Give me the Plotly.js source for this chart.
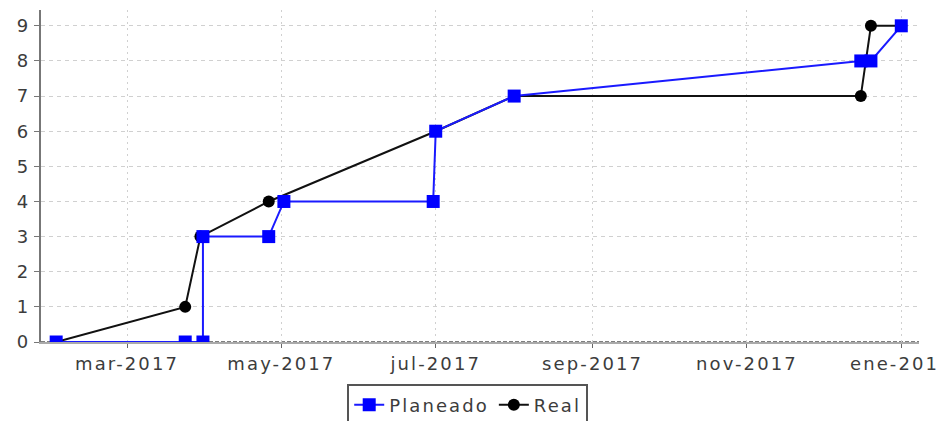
<!DOCTYPE html>
<html>
<head>
<meta charset="utf-8">
<script src="https://cdn.plot.ly/plotly-3.0.1.min.js"></script>
<style>
  html, body { margin: 0; padding: 0; background: #fff; }
  #chart { width: 936px; height: 421px; }
  .xtick text, .ytick text, .legendtext { letter-spacing: 2.1px; }
</style>
</head>
<body>
<div id="chart"></div>
<script>
// Planeado (planned) series
const planeadoDates = ["2017-02-01", "2017-03-24", "2017-03-31", "2017-03-31", "2017-04-26", "2017-05-02", "2017-06-30", "2017-07-01", "2017-08-01", "2017-12-16", "2017-12-20", "2018-01-01"];
const planeadoValues = [0, 0, 0, 3, 3, 4, 4, 6, 7, 8, 8, 9];

// Real (actual) series
const realDates = ["2017-02-01", "2017-03-24", "2017-03-30", "2017-04-26", "2017-07-01", "2017-08-01", "2017-12-16", "2017-12-20", "2018-01-01"];
const realValues = [0, 1, 3, 4, 6, 7, 7, 9, 9];

// Axis ticks
const xTickDates = ["2017-03-01", "2017-05-01", "2017-07-01", "2017-09-01", "2017-11-01", "2018-01-01"];
const xTickLabels = ["mar-2017", "may-2017", "jul-2017", "sep-2017", "nov-2017", "ene-2018"];
const yTickValues = [0, 1, 2, 3, 4, 5, 6, 7, 8, 9];

const tickFont = { family: "DejaVu Sans", size: 18, color: "#3c3c3c" };

const traces = [
  {
    name: "Real",
    x: realDates,
    y: realValues,
    type: "scatter",
    mode: "lines+markers",
    line: { color: "#111", width: 2 },
    marker: { symbol: "circle", size: 12, color: "#000" },
    legendrank: 2
  },
  {
    name: "Planeado",
    x: planeadoDates,
    y: planeadoValues,
    type: "scatter",
    mode: "lines+markers",
    line: { color: "#1a1aff", width: 2 },
    marker: { symbol: "square", size: 13, color: "#0000ff" },
    legendrank: 1
  }
];

const layout = {
  width: 936,
  height: 421,
  margin: { l: 41, r: 17, t: 10, b: 79, autoexpand: false },
  paper_bgcolor: "#fff",
  plot_bgcolor: "#fff",
  showlegend: true,
  xaxis: {
    type: "date",
    range: ["2017-01-26", "2018-01-08"],
    tickvals: xTickDates,
    ticktext: xTickLabels,
    tickfont: tickFont,
    ticklabeloverflow: "allow",
    showgrid: true,
    gridcolor: "#d0d0d0",
    griddash: "2px,4px",
    gridwidth: 1,
    ticks: "outside",
    ticklen: 4,
    tickcolor: "#666",
    showline: true,
    linecolor: "#aaa",
    linewidth: 2,
    zeroline: false
  },
  yaxis: {
    range: [0, 9.45],
    tickvals: yTickValues,
    tickfont: tickFont,
    ticklabeloverflow: "allow",
    showgrid: true,
    gridcolor: "#d0d0d0",
    griddash: "4px,4px",
    gridwidth: 1,
    ticks: "outside",
    ticklen: 5,
    tickcolor: "#777",
    showline: true,
    linecolor: "#777",
    linewidth: 2,
    zeroline: false
  },
  shapes: [
    {
      type: "line", xref: "paper", yref: "y",
      x0: 0, x1: 1, y0: 0, y1: 0,
      line: { color: "#555", width: 1.5, dash: "4px,2px" },
      layer: "below"
    }
  ],
  legend: {
    orientation: "h",
    x: 0.486,
    xanchor: "center",
    y: -0.128,
    yanchor: "top",
    bgcolor: "#fff",
    bordercolor: "#555",
    borderwidth: 2,
    font: { family: "DejaVu Sans", size: 18, color: "#3c3c3c" },
    itemwidth: 30
  }
};

Plotly.newPlot("chart", traces, layout, { displayModeBar: false, responsive: false });
</script>
</body>
</html>
